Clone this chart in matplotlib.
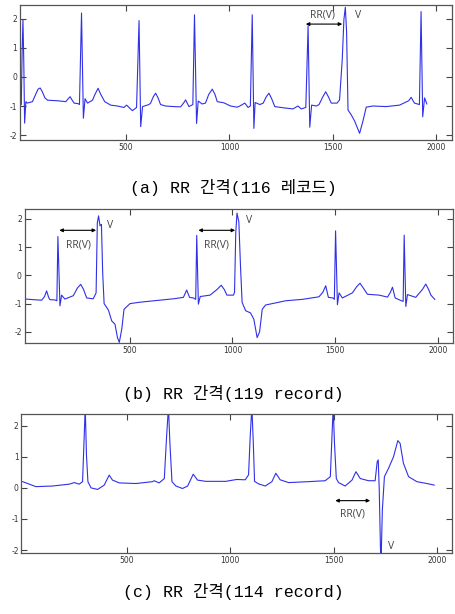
import matplotlib
matplotlib.use("Agg")
import matplotlib.pyplot as plt

plt.rcParams['axes.unicode_minus'] = False

# (a) record 116
a_x = [-12, -6, -2, 2, 6, 10, 16, 22, 48, 62, 75, 85, 95, 108, 121, 169, 209, 222, 230, 238, 249,
       269, 275, 285, 294, 302, 314, 338, 350, 365, 378, 397, 426, 458, 490, 503, 531, 551, 563,
       571, 580, 611, 619, 632, 643, 655, 667, 691, 732, 764, 780, 788, 796, 804, 823, 831, 841,
       849, 868, 884, 900, 917, 930, 941, 973, 1005, 1037, 1050, 1074, 1090, 1101, 1110, 1118,
       1124, 1147, 1163, 1178, 1191, 1204, 1219, 1259, 1307, 1331, 1347, 1369, 1380, 1388, 1397,
       1420, 1433, 1450, 1465, 1478, 1492, 1520, 1532, 1545, 1553, 1560, 1566, 1573, 1589, 1605,
       1629, 1645, 1661, 1693, 1757, 1822, 1866, 1878, 1894, 1918, 1926, 1934, 1943, 1954]
a_y = [-0.85, -0.95, 0.9, 1.97, 0.5, -1.59, -0.85, -0.9, -0.85, -0.62, -0.42, -0.38, -0.5, -0.72,
       -0.8, -0.82, -0.85, -0.74, -0.68, -0.78, -0.9, -0.92, -0.95, 2.2, -1.42, -0.75, -0.9, -0.8,
       -0.6, -0.39, -0.6, -0.85, -0.97, -1.0, -1.05, -0.97, -1.16, -1.05, 1.94, -1.71, -1.02,
       -0.95, -0.9, -0.68, -0.56, -0.72, -0.95, -1.0, -1.02, -1.03, -0.88, -0.79, -0.9, -1.02,
       -0.95, 2.14, -1.6, -0.83, -0.93, -0.9, -0.6, -0.42, -0.6, -0.85, -0.89, -1.0, -1.04, -1.0,
       -0.9, -1.05, -1.0, 2.14, -1.77, -0.88, -0.95, -0.9, -0.68, -0.56, -0.75, -1.02, -1.06,
       -1.1, -1.0, -1.1, -1.05, 1.76, -1.73, -0.97, -1.0, -0.95, -0.7, -0.51, -0.68, -0.9, -0.9,
       -0.79, 0.59, 1.97, 2.4, 1.56, -1.14, -1.31, -1.52, -1.94, -1.52, -1.04, -1.0, -1.02,
       -0.97, -0.82, -0.7, -0.9, -0.95, 2.25, -1.37, -0.72, -0.93]

# (b) record 119
b_x = [-6, 30, 71, 85, 95, 105, 111, 136, 145, 150, 160, 168, 184, 225, 245, 261, 275, 290, 322,
       336, 342, 348, 355, 362, 368, 375, 396, 412, 428, 440, 449, 461, 472, 501, 550, 631, 713,
       761, 777, 791, 810, 821, 826, 834, 843, 891, 925, 945, 960, 973, 1005, 1010, 1016, 1022,
       1031, 1039, 1047, 1064, 1088, 1104, 1120, 1132, 1145, 1161, 1259, 1340, 1421, 1440, 1454,
       1467, 1489, 1496, 1502, 1511, 1519, 1535, 1584, 1605, 1621, 1637, 1657, 1714, 1755, 1769,
       1779, 1792, 1823, 1831, 1836, 1844, 1852, 1892, 1925, 1941, 1955, 1966, 1985]
b_y = [-0.84, -0.86, -0.88, -0.75, -0.55, -0.78, -0.86, -0.87, -0.9, 1.37, -1.08, -0.7, -0.84,
       -0.72, -0.45, -0.32, -0.5, -0.8, -0.83, -0.62, 1.86, 2.1, 1.75, 1.8, 0.1, -1.0, -1.23,
       -1.61, -1.73, -2.2, -2.37, -1.9, -1.2, -1.0, -0.95, -0.89, -0.83, -0.78, -0.52, -0.78,
       -0.8, -0.85, 1.41, -1.02, -0.75, -0.7, -0.5, -0.35, -0.5, -0.7, -0.7, -0.6, 1.5, 2.2, 1.89,
       0.33, -0.96, -1.25, -1.33, -1.55, -2.2, -2.0, -1.2, -1.05, -0.9, -0.85, -0.76, -0.6, -0.37,
       -0.78, -0.8, -0.85, 1.57, -1.04, -0.62, -0.8, -0.62, -0.4, -0.28, -0.45, -0.67, -0.7, -0.77,
       -0.6, -0.42, -0.8, -0.9, -0.92, 1.42, -1.1, -0.68, -0.78, -0.5, -0.31, -0.5, -0.7, -0.85]

# (c) record 114
c_x = [-6, 26, 58, 139, 220, 244, 268, 284, 292, 297, 303, 310, 325, 357, 389, 413, 429, 462, 543,
       623, 631, 655, 680, 691, 700, 707, 717, 736, 768, 793, 820, 841, 881, 978, 1030, 1072, 1088,
       1096, 1104, 1111, 1117, 1136, 1169, 1201, 1220, 1241, 1282, 1378, 1459, 1484, 1492, 1498,
       1504, 1513, 1524, 1556, 1589, 1608, 1629, 1669, 1701, 1711, 1716, 1721, 1727, 1730, 1736,
       1746, 1766, 1790, 1811, 1822, 1838, 1863, 1903, 1952, 1987]
c_y = [0.2, 0.12, 0.04, 0.06, 0.12, 0.17, 0.12, 0.2, 1.65, 2.6, 1.05, 0.2, 0.0, -0.05, 0.09, 0.41,
       0.25, 0.16, 0.14, 0.2, 0.23, 0.16, 0.3, 1.65, 2.6, 1.45, 0.2, 0.06, -0.02, 0.06, 0.44, 0.25,
       0.21, 0.21, 0.27, 0.26, 0.42, 1.66, 2.6, 1.45, 0.21, 0.13, 0.06, 0.2, 0.47, 0.26, 0.17, 0.2,
       0.23, 0.36, 1.66, 2.6, 1.45, 0.3, 0.17, 0.06, 0.25, 0.52, 0.3, 0.23, 0.23, 0.84, 0.9, -0.07,
       -2.0, -2.3, -0.71, 0.36, 0.63, 1.0, 1.52, 1.43, 0.79, 0.36, 0.2, 0.14, 0.09]

captions = ['(a) RR 간격(116 레코드)', '(b) RR 간격(119 record)', '(c) RR 간격(114 record)']
x_ticks = [500, 1000, 1500, 2000]
y_ticks = [-2, -1, 0, 1, 2]

# annotation anchors: (arrow start, arrow end, arrow y, label x, label y, V x, V y)
a_marks = [(1369, 1545, 1.82, 1449, 2.14, 1621, 2.1)]
b_marks = [(157, 336, 1.59, 249, 1.07, 404, 1.77),
           (834, 1013, 1.59, 924, 1.07, 1083, 1.95)]
c_marks = [(1508, 1677, -0.41, 1592, -0.84, 1779, -1.87)]

fig = plt.figure(figsize=(4.56, 6.14), dpi=100)
boxes = [[0.044, 0.772, 0.947, 0.220],
         [0.054, 0.441, 0.940, 0.218],
         [0.047, 0.099, 0.945, 0.227]]
ylims = [(-2.17, 2.48), (-2.4, 2.33), (-2.1, 2.38)]
cap_y = [188, 393, 592]
series = [(a_x, a_y, a_marks), (b_x, b_y, b_marks), (c_x, c_y, c_marks)]

for i, (xs, ys, marks) in enumerate(series):
    ax = fig.add_axes(boxes[i])
    ax.plot(xs, ys, color='#3030e8', lw=0.8)
    ax.set_xlim(-12, 2075)
    ax.set_ylim(*ylims[i])
    ax.set_xticks(x_ticks)
    ax.set_yticks(y_ticks)
    ax.tick_params(direction='in', length=4, width=0.8, top=True, right=True,
                   labelsize=5.5, labelcolor='#333333', color='#444444', pad=2)
    for s in ax.spines.values():
        s.set_color('#555555')
        s.set_linewidth(0.9)
    for x0, x1, ya, lx, ly, vx, vy in marks:
        ax.annotate('', xy=(x0, ya), xytext=(x1, ya),
                    arrowprops=dict(arrowstyle='<|-|>', mutation_scale=5, lw=0.8,
                                    color='black', shrinkA=0, shrinkB=0))
        ax.text(lx, ly, 'RR(V)', ha='center', va='center', fontsize=7.5,
                color='#444444', family='Open Sans')
        ax.text(vx, vy, 'V', ha='center', va='center', fontsize=7.5,
                color='#444444', family='Open Sans')
    fig.text(233 / 456, 1 - cap_y[i] / 614, captions[i], ha='center', va='center',
             fontsize=12, family=['Liberation Mono', 'Noto Sans CJK KR'])

fig.savefig('out.png', dpi=100)
